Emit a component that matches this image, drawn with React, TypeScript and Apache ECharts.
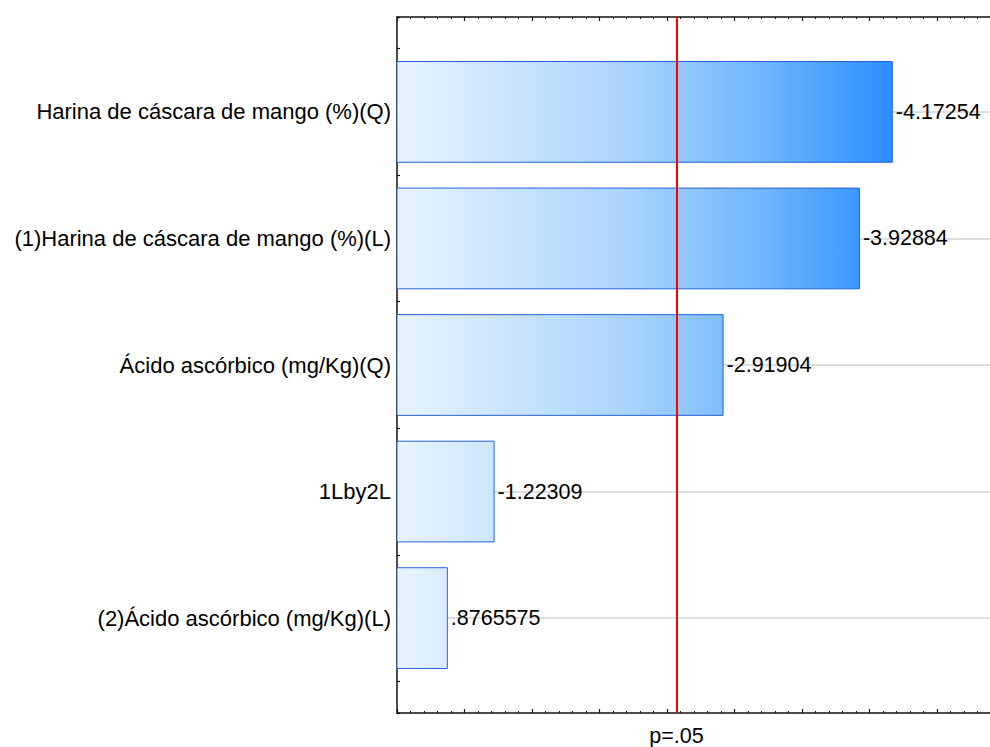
import React, { useEffect, useRef } from "react";
import * as echarts from "echarts";

const categories = [
  "Harina de cáscara de mango (%)(Q)",
  "(1)Harina de cáscara de mango (%)(L)",
  "Ácido ascórbico (mg/Kg)(Q)",
  "1Lby2L",
  "(2)Ácido ascórbico (mg/Kg)(L)",
];
const effects = [-4.17254, -3.92884, -2.91904, -1.22309, 0.8765575];
const effectLabels = ["-4.17254", "-3.92884", "-2.91904", "-1.22309", ".8765575"];
const tCritical = 2.5706;
const criticalLabel = "p=.05";

const X_MIN = 0.5;
const X_MAX = 5;
const Y_MIN = 0.25;
const Y_MAX = 5.75;

export default function App() {
  const ref = useRef<HTMLDivElement>(null);
  useEffect(() => {
    document.body.style.margin = "0";
    document.body.style.overflow = "hidden";
    document.documentElement.style.overflow = "hidden";
    if (!ref.current) return;
    const chart = echarts.init(ref.current, null, { renderer: "svg" });
    const font = "'Liberation Sans', Arial, sans-serif";
    const frameLeft = 397;
    const frameTop = 17;
    const frameHeight = 696;
    const frameWidth = 607.5;
    const unit = frameHeight / (Y_MAX - Y_MIN);
    const barTop = frameTop + (1 - Y_MIN) * unit - unit / 2;
    const barHeight = categories.length * unit;

    const grad = new echarts.graphic.LinearGradient(
      frameLeft, 0, 893, 0,
      [
        { offset: 0, color: "#e8f3ff" },
        { offset: 0.45, color: "#acd5fd" },
        { offset: 0.75, color: "#6cb4fd" },
        { offset: 1, color: "#2a8dfe" },
      ],
      true
    );

    const frameX = (pos: "top" | "bottom") => ({
      type: "value",
      gridIndex: 0,
      position: pos,
      min: X_MIN,
      max: X_MAX,
      interval: 0.5,
      axisLine: { show: true, onZero: false, lineStyle: { color: "#111", width: 1.5 } },
      axisTick: { show: true, inside: true, length: 4, lineStyle: { color: "#111", width: 1.2 } },
      minorTick: { show: true, splitNumber: 5, length: 2, lineStyle: { color: "#111", width: 1 } },
      axisLabel: { show: false },
      splitLine: { show: false },
    });
    const frameY = (pos: "left" | "right") => ({
      type: "value",
      gridIndex: 0,
      position: pos,
      min: Y_MIN,
      max: Y_MAX,
      interval: 0.25,
      axisLine: { show: true, onZero: false, lineStyle: { color: "#111", width: 1.5 } },
      axisTick: { show: true, inside: true, length: 3, lineStyle: { color: "#111", width: 1.2 } },
      axisLabel: { show: false },
      splitLine: { show: false },
    });

    chart.setOption({
      animation: false,
      backgroundColor: "#ffffff",
      grid: [
        { left: frameLeft, top: frameTop, width: frameWidth, height: frameHeight },
        { left: frameLeft, top: barTop, width: frameWidth, height: barHeight },
      ],
      xAxis: [
        frameX("bottom"),
        frameX("top"),
        {
          type: "value",
          gridIndex: 1,
          min: X_MIN,
          max: X_MAX,
          show: false,
        },
      ],
      yAxis: [
        frameY("left"),
        frameY("right"),
        {
          type: "category",
          gridIndex: 1,
          inverse: true,
          data: categories,
          axisLine: { show: false },
          axisTick: { show: false },
          splitLine: { show: false },
          axisLabel: {
            margin: 6,
            fontFamily: font,
            fontSize: 22,
            color: "#000",
          },
        },
      ],
      series: [
        {
          type: "line",
          xAxisIndex: 2,
          yAxisIndex: 2,
          data: [],
          silent: true,
          markLine: {
            z: 1,
            silent: true,
            symbol: "none",
            label: { show: false },
            lineStyle: { color: "#d4d4d4", width: 1.5, type: "solid" },
            data: categories.map((c) => ({ yAxis: c })),
          },
        },
        {
          type: "bar",
          xAxisIndex: 2,
          yAxisIndex: 2,
          z: 2,
          barCategoryGap: "19.6%",
          data: effects.map((v) => Math.abs(v)),
          itemStyle: {
            color: grad,
            borderColor: "#2563d6",
            borderWidth: 1,
          },
          label: {
            show: true,
            position: "right",
            distance: 3,
            fontFamily: font,
            fontSize: 21.5,
            color: "#000",
            formatter: (p: any) => effectLabels[p.dataIndex],
          },
        },
        {
          type: "line",
          xAxisIndex: 0,
          yAxisIndex: 0,
          data: [],
          silent: true,
          markLine: {
            z: 6,
            silent: true,
            symbol: "none",
            lineStyle: { color: "#ff0000", width: 2, type: "solid" },
            label: {
              show: true,
              position: "end",
              distance: 12,
              formatter: criticalLabel,
              fontFamily: font,
              fontSize: 21.5,
              color: "#000",
            },
            data: [
              [
                { coord: [tCritical, Y_MAX] },
                { coord: [tCritical, Y_MIN] },
              ],
            ],
          },
        },
      ],
    });
    return () => chart.dispose();
  }, []);
  return (
    <div
      ref={ref}
      style={{ position: "fixed", left: 0, top: 0, width: 1020, height: 747 }}
    />
  );
}
